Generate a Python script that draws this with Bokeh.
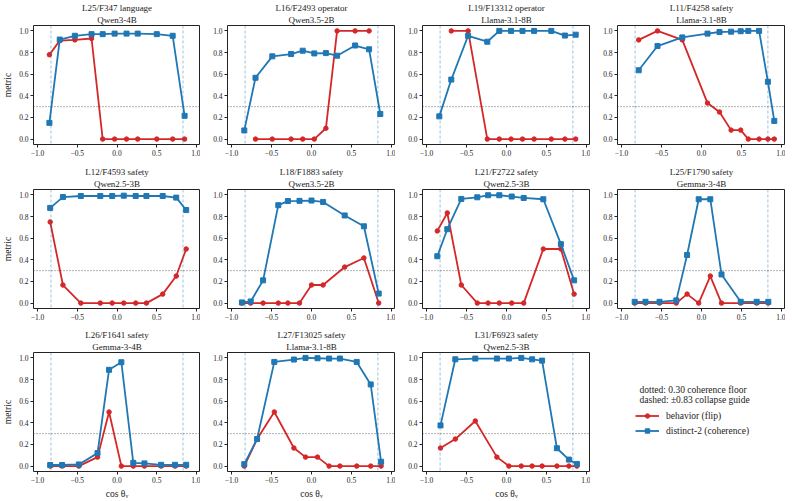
from bokeh.plotting import figure
from bokeh.layouts import column, row
from bokeh.models import (Span, Label, Legend, LegendItem, FixedTicker, Range1d,
                          ColumnDataSource, Title)
from bokeh.embed import file_html
from bokeh.resources import INLINE

nan = float("nan")

# Panel headings: feature id + concept, then the model
features = ["L25/F347 language", "L16/F2493 operator", "L19/F13312 operator",
            "L11/F4258 safety", "L12/F4593 safety", "L18/F1883 safety",
            "L21/F2722 safety", "L25/F1790 safety", "L26/F1641 safety",
            "L27/F13025 safety", "L31/F6923 safety"]
models = ["Qwen3-4B", "Qwen3.5-2B", "Llama-3.1-8B", "Llama-3.1-8B",
          "Qwen2.5-3B", "Qwen3.5-2B", "Qwen2.5-3B", "Gemma-3-4B",
          "Gemma-3-4B", "Llama-3.1-8B", "Qwen2.5-3B"]

# Steering sweep positions (cos theta_v) per feature
cos_theta = [
    [-0.85, -0.72, -0.53, -0.32, -0.18, -0.03, 0.12, 0.26, 0.50, 0.70, 0.85],
    [-0.84, -0.70, -0.49, -0.255, -0.11, 0.035, 0.18, 0.32, 0.545, 0.72, 0.86],
    [-0.84, -0.69, -0.48, -0.24, -0.09, 0.057, 0.20, 0.345, 0.56, 0.73, 0.865],
    [-0.785, -0.55, -0.24, 0.075, 0.225, 0.37, 0.49, 0.585, 0.72, 0.83, 0.91],
    [-0.84, -0.68, -0.455, -0.21, -0.06, 0.085, 0.235, 0.37, 0.575, 0.745, 0.87],
    [-0.87, -0.76, -0.605, -0.415, -0.295, -0.15, 0.0, 0.145, 0.415, 0.655, 0.84],
    [-0.865, -0.74, -0.565, -0.365, -0.23, -0.09, 0.065, 0.215, 0.46, 0.68, 0.845],
    [-0.835, -0.70, -0.525, -0.315, -0.18, -0.035, 0.11, 0.25, 0.49, 0.69, 0.835],
    [-0.84, -0.69, -0.48, -0.245, -0.10, 0.055, 0.205, 0.345, 0.555, 0.73, 0.87],
    [-0.84, -0.68, -0.465, -0.22, -0.075, 0.075, 0.22, 0.355, 0.565, 0.74, 0.87],
    [-0.825, -0.64, -0.39, -0.12, 0.03, 0.185, 0.32, 0.445, 0.63, 0.78, 0.88],
]

# Behavior flip rate
behavior = [
    [0.78, 0.91, 0.917, 0.93, 0, 0, 0, 0, 0, 0, 0],
    [nan, 0, 0, 0, 0, 0, 0.1, 1.0, 1.0, 1.0, nan],
    [nan, 1.0, 1.0, 0, 0, 0, 0, 0, 0, 0, 0],
    [0.917, 1.0, 0.917, 0.333, 0.25, 0.083, 0.083, 0, 0, 0, 0],
    [0.75, 0.167, 0, 0, 0, 0, 0, 0, 0.083, 0.25, 0.5],
    [0, 0, 0, 0, 0, 0, 0.167, 0.167, 0.333, 0.417, 0],
    [0.667, 0.833, 0.167, 0, 0, 0, 0, 0, 0.5, 0.5, 0.083],
    [0, 0, 0, 0, 0.083, 0, 0.25, 0, 0, 0, 0],
    [0, 0, 0, 0.083, 0.5, 0, 0, 0, 0, 0, 0],
    [0, 0.25, 0.5, 0.167, 0.083, 0.083, 0, 0, 0, 0, 0],
    [0.167, 0.25, 0.417, 0.083, 0, 0, 0, 0, 0, 0, 0],
]

# distinct-2 coherence
distinct = [
    [0.15, 0.92, 0.955, 0.97, 0.97, 0.975, 0.975, 0.975, 0.97, 0.955, 0.215],
    [0.08, 0.567, 0.765, 0.786, 0.817, 0.792, 0.795, 0.771, 0.865, 0.83, 0.232],
    [0.21, 0.55, 0.955, 0.90, 1.0, 1.0, 1.0, 1.0, 1.0, 0.957, 0.965],
    [0.636, 0.86, 0.94, 0.975, 0.99, 0.993, 0.997, 1.0, 1.0, 0.53, 0.168],
    [0.88, 0.98, 0.99, 0.99, 0.99, 0.993, 0.99, 0.99, 0.99, 0.975, 0.86],
    [0.006, 0.015, 0.21, 0.905, 0.943, 0.945, 0.948, 0.935, 0.81, 0.71, 0.088],
    [0.433, 0.683, 0.963, 0.978, 0.997, 0.997, 0.985, 0.972, 0.96, 0.545, 0.21],
    [0.012, 0.012, 0.012, 0.025, 0.445, 0.96, 0.96, 0.265, 0.012, 0.012, 0.012],
    [0.01, 0.01, 0.015, 0.12, 0.89, 0.96, 0.03, 0.025, 0.012, 0.012, 0.012],
    [0.018, 0.25, 0.963, 0.985, 1.0, 0.997, 0.994, 0.994, 0.963, 0.755, 0.04],
    [0.376, 0.987, 0.994, 0.994, 0.994, 1.0, 0.987, 0.975, 0.165, 0.06, 0.02],
]

COHERENCE_FLOOR = 0.30
COLLAPSE_GUIDE = 0.83

x_ticks = [-1.0, -0.5, 0.0, 0.5, 1.0]
x_tick_labels = ["\u22121.0", "\u22120.5", "0.0", "0.5", "1.0"]
y_ticks = [0.0, 0.2, 0.4, 0.6, 0.8, 1.0]
y_tick_labels = ["0.0", "0.2", "0.4", "0.6", "0.8", "1.0"]

RED = "#d62728"
BLUE = "#1f77b4"
INK = "#222222"
FONT = "'Liberation Serif', 'DejaVu Serif', serif"

ROW_HEIGHTS = [164, 163, 174]
ROW_BOTTOM = [20, 19, 30]


def heading(text, standoff):
    return Title(text=text, align="center", text_font=FONT,
                 text_font_size="9px", text_font_style="normal",
                 text_color=INK, standoff=standoff, offset=0,
                 text_line_height=1.0)


def make_panel(k, r, c):
    p = figure(width=200 if c == 0 else 195, height=ROW_HEIGHTS[r],
               x_range=Range1d(-1.05, 1.05), y_range=Range1d(-0.05, 1.05),
               output_backend="svg", toolbar_location=None, min_border=0,
               title=None)
    p.min_border_left = 32 if c == 0 else 27
    p.min_border_right = 0
    p.min_border_top = 24
    p.min_border_bottom = ROW_BOTTOM[r]

    # two-line heading: model line next to the frame, feature line above it
    p.add_layout(heading(models[k], 1), "above")
    p.add_layout(heading(features[k], 0), "above")

    p.xgrid.visible = False
    p.ygrid.visible = False
    p.outline_line_color = INK
    p.outline_line_width = 1
    p.outline_line_alpha = 1.0
    p.background_fill_color = "white"
    p.border_fill_color = "white"

    for ax, ticks, labels in ((p.xaxis[0], x_ticks, x_tick_labels),
                              (p.yaxis[0], y_ticks, y_tick_labels)):
        ax.ticker = FixedTicker(ticks=ticks)
        ax.major_label_overrides = {t: s for t, s in zip(ticks, labels)}
        ax.axis_line_color = None
        ax.major_tick_in = 0
        ax.major_tick_out = 3
        ax.major_tick_line_color = INK
        ax.minor_tick_line_color = None
        ax.major_label_text_font = FONT
        ax.major_label_text_font_size = "7.5px"
        ax.major_label_text_color = INK
        ax.major_label_standoff = 2
        ax.axis_label_text_font = FONT
        ax.axis_label_text_font_size = "9.5px"
        ax.axis_label_text_font_style = "normal"
        ax.axis_label_text_color = INK
        ax.axis_label_standoff = 3

    if c == 0:
        p.yaxis[0].axis_label = "metric"
    if r == 2:
        p.xaxis[0].axis_label = "cos \u03b8\u1d65"

    # reference guides
    for loc in (-COLLAPSE_GUIDE, COLLAPSE_GUIDE):
        p.add_layout(Span(location=loc, dimension="height", line_color=BLUE,
                          line_alpha=0.5, line_width=0.9, line_dash="3 2"))
    p.add_layout(Span(location=COHERENCE_FLOOR, dimension="width",
                      line_color="#555555", line_width=0.9, line_dash="1 2"))

    src = ColumnDataSource(dict(x=cos_theta[k], b=behavior[k], d=distinct[k]))
    p.line("x", "b", source=src, line_color=RED, line_width=1.8)
    p.scatter("x", "b", source=src, marker="circle", size=4.5,
              fill_color=RED, line_color=RED)
    p.line("x", "d", source=src, line_color=BLUE, line_width=1.8)
    p.scatter("x", "d", source=src, marker="square", size=5,
              fill_color=BLUE, line_color=BLUE)
    return p


def make_key():
    p = figure(width=195, height=ROW_HEIGHTS[2], x_range=Range1d(0, 1),
               y_range=Range1d(0, 1), output_backend="svg",
               toolbar_location=None, min_border=0, title=None,
               x_axis_type=None, y_axis_type=None)
    p.xgrid.visible = False
    p.ygrid.visible = False
    p.outline_line_color = None
    p.border_fill_color = "white"

    notes = ["dotted: %.2f coherence floor" % COHERENCE_FLOOR,
             "dashed: \u00b1%.2f collapse guide" % COLLAPSE_GUIDE]
    for i, txt in enumerate(notes):
        p.add_layout(Label(x=49, y=82 - 10 * i, x_units="screen",
                           y_units="screen", text=txt, text_font=FONT,
                           text_font_size="9.5px", text_color=INK,
                           text_baseline="middle"))

    # key swatches: a single point placed outside the visible range
    off = ColumnDataSource(dict(x=[-100.0], y=[-100.0]))
    rl = p.line("x", "y", source=off, line_color=RED, line_width=1.8)
    rs = p.scatter("x", "y", source=off, marker="circle", size=4.5,
                   fill_color=RED, line_color=RED)
    bl = p.line("x", "y", source=off, line_color=BLUE, line_width=1.8)
    bs = p.scatter("x", "y", source=off, marker="square", size=5,
                   fill_color=BLUE, line_color=BLUE)
    legend = Legend(items=[LegendItem(label="behavior (flip)", renderers=[rl, rs]),
                           LegendItem(label="distinct-2 (coherence)", renderers=[bl, bs])],
                    location=(45, 35), orientation="vertical",
                    background_fill_alpha=0, border_line_color=None,
                    padding=0, margin=0, spacing=4, glyph_width=24,
                    glyph_height=11, label_height=11, label_standoff=7,
                    label_text_font=FONT, label_text_font_size="9.5px",
                    label_text_color=INK)
    p.add_layout(legend)
    return p


rows = []
k = 0
for r in range(3):
    panels = []
    for c in range(4):
        if k < len(features):
            panels.append(make_panel(k, r, c))
            k += 1
        else:
            panels.append(make_key())
    rows.append(row(*panels, spacing=0))

layout = column(*rows, spacing=0)

open("out.html", "w").write(file_html(layout, INLINE))
